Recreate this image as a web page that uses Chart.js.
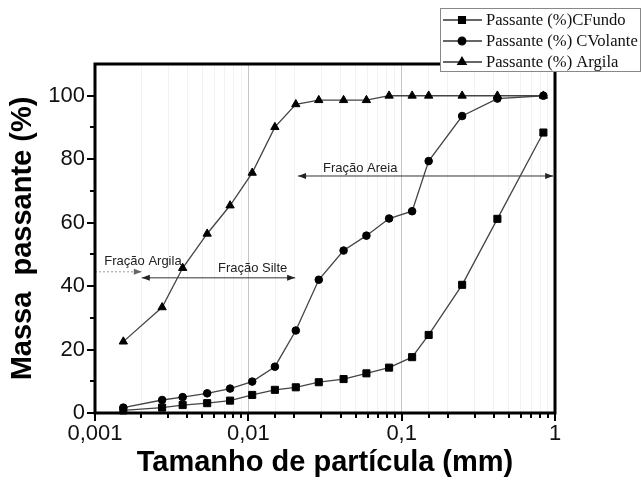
<!DOCTYPE html>
<html>
<head>
<meta charset="utf-8">
<script src="https://cdn.jsdelivr.net/npm/chart.js@4/dist/chart.umd.min.js"></script>
<style>
  html, body { margin: 0; padding: 0; background: #fff; }
  #wrap { width: 642px; height: 484px; }
</style>
</head>
<body>
<div id="wrap"><canvas id="chart"></canvas></div>
<script>
// particle size (mm), shared by the three curves
var tamanho = [0.00153, 0.00274, 0.00373, 0.00539, 0.0076, 0.0106, 0.0149, 0.0204, 0.0288,
  0.0418, 0.0589, 0.0828, 0.117, 0.150, 0.248, 0.421, 0.84];
var cFundo = [0.8, 1.7, 2.5, 3.1, 3.9, 5.7, 7.3, 8.1, 9.7, 10.7, 12.5, 14.3, 17.6, 24.6, 40.4, 61.2, 88.4];
var cVolante = [1.7, 4.1, 5.0, 6.2, 7.7, 9.9, 14.6, 26.0, 42.0, 51.2, 55.9, 61.3, 63.6, 79.4, 93.6, 99.1, 100];
var argila = [22.5, 33.3, 45.7, 56.5, 65.4, 75.7, 90.1, 97.3, 98.6, 98.6, 98.6, 100, 100, 100, 100, 100, 100];

var seriesNames = ["Passante (%)CFundo", "Passante (%) CVolante", "Passante (%) Argila"];
var seriesStyles = ["rect", "circle", "triangle"];

// fraction arrows: [label, x from, x to, y, arrows, label x, label y]
var fracoes = [
  ["Fração Argila", 0.001, 0.00202, 44.5, "right", 0.00115, 46.8],
  ["Fração Silte", 0.00202, 0.0202, 42.6, "both", 0.00634, 44.5],
  ["Fração Areia", 0.0211, 0.973, 74.7, "both", 0.0307, 75.9]
];

function pts(ys) {
  return ys.map(function (v, i) { return { x: tamanho[i], y: v }; });
}

function isPow10(v) {
  var l = Math.log10(v);
  return Math.abs(l - Math.round(l)) < 1e-9;
}

function arrowHead(ctx, x, y, dir) {
  ctx.beginPath();
  ctx.moveTo(x, y);
  ctx.lineTo(x - dir * 8, y - 3);
  ctx.lineTo(x - dir * 8, y + 3);
  ctx.closePath();
  ctx.fill();
}

var annotations = {
  id: "annotations",
  beforeDatasetsDraw: function (chart) {
    var ctx = chart.ctx, x = chart.scales.x, y = chart.scales.y;
    ctx.save();
    fracoes.forEach(function (f) {
      var x1 = x.getPixelForValue(f[1]), x2 = x.getPixelForValue(f[2]), py = y.getPixelForValue(f[3]);
      ctx.lineWidth = 1;
      if (f[4] === "right") {
        ctx.strokeStyle = "#999";
        ctx.fillStyle = "#666";
        ctx.setLineDash([2, 2]);
      } else {
        ctx.strokeStyle = "#333";
        ctx.fillStyle = "#222";
        ctx.setLineDash([]);
      }
      ctx.beginPath();
      ctx.moveTo(x1, py);
      ctx.lineTo(x2, py);
      ctx.stroke();
      ctx.setLineDash([]);
      arrowHead(ctx, x2, py, 1);
      if (f[4] === "both") arrowHead(ctx, x1, py, -1);
      ctx.fillStyle = "#222";
      ctx.font = "13px 'Liberation Sans', Arial, sans-serif";
      ctx.textAlign = "left";
      ctx.textBaseline = "alphabetic";
      ctx.fillText(f[0], x.getPixelForValue(f[5]), y.getPixelForValue(f[6]));
    });
    ctx.restore();
  }
};

var frame = {
  id: "frame",
  afterDraw: function (chart) {
    var ctx = chart.ctx, a = chart.chartArea, x = chart.scales.x, y = chart.scales.y;
    ctx.save();
    ctx.strokeStyle = "#000";
    ctx.lineWidth = 2;
    ctx.beginPath();
    y.ticks.forEach(function (t) {
      if (t.value >= 110) return;
      var py = Math.round(y.getPixelForValue(t.value));
      var len = t.value % 20 === 0 ? 8 : 5;
      ctx.moveTo(a.left - len, py);
      ctx.lineTo(a.left, py);
    });
    x.ticks.forEach(function (t) {
      var px = Math.round(x.getPixelForValue(t.value));
      var len = isPow10(t.value) ? 8 : 5;
      ctx.moveTo(px, a.bottom);
      ctx.lineTo(px, a.bottom + len);
    });
    ctx.stroke();
    ctx.lineWidth = 3;
    ctx.strokeRect(a.left, a.top, a.right - a.left, a.bottom - a.top);

    // legend box
    ctx.fillStyle = "#fff";
    ctx.fillRect(440, 8, 201, 64);
    ctx.strokeStyle = "#888";
    ctx.lineWidth = 1;
    ctx.strokeRect(440.5, 8.5, 200, 63);
    seriesNames.forEach(function (name, i) {
      var ly = 20 + i * 21;
      ctx.strokeStyle = "#333";
      ctx.lineWidth = 1.3;
      ctx.beginPath();
      ctx.moveTo(443, ly);
      ctx.lineTo(482, ly);
      ctx.stroke();
      ctx.fillStyle = "#000";
      ctx.strokeStyle = "#000";
      Chart.helpers.drawPoint(ctx, { pointStyle: seriesStyles[i], radius: seriesStyles[i] === "circle" ? 3.8 : 4.8, rotation: 0, borderWidth: 1 }, 462, ly);
      ctx.fillStyle = "#111";
      ctx.font = "16.6px 'Liberation Serif', 'Times New Roman', serif";
      ctx.textAlign = "left";
      ctx.textBaseline = "middle";
      ctx.fillText(name, 486, ly + 1);
    });
    ctx.restore();
  }
};

function dataset(label, ys, style, r) {
  return {
    label: label,
    data: pts(ys),
    borderColor: "#444",
    borderWidth: 1.3,
    backgroundColor: "#000",
    pointStyle: style,
    pointRadius: r,
    pointBackgroundColor: "#000",
    pointBorderColor: "#000",
    pointBorderWidth: 1,
    tension: 0,
    clip: false
  };
}

var ctx = document.getElementById("chart").getContext("2d");
var chart = new Chart(ctx, {
  type: "line",
  data: {
    datasets: [
      dataset(seriesNames[0], cFundo, "rect", 5),
      dataset(seriesNames[1], cVolante, "circle", 3.8),
      dataset(seriesNames[2], argila, "triangle", 4.8)
    ]
  },
  options: {
    responsive: true,
    maintainAspectRatio: false,
    animation: false,
    events: [],
    layout: { padding: { left: 0, right: 87, top: 64, bottom: 0 } },
    plugins: { legend: { display: false }, tooltip: { enabled: false } },
    scales: {
      x: {
        type: "logarithmic",
        min: 0.001,
        max: 1,
        afterFit: function (s) { s.height = 71; },
        border: { display: false },
        grid: {
          drawTicks: false,
          lineWidth: 1,
          color: function (c) { return c.tick && isPow10(c.tick.value) ? "#c4c4c4" : "#f2f2f2"; }
        },
        ticks: {
          autoSkip: false,
          maxRotation: 0,
          padding: 8,
          color: "#111",
          font: { family: "'Liberation Sans', Arial, sans-serif", size: 22 },
          callback: function (v) { return isPow10(v) ? String(v).replace(".", ",") : ""; }
        },
        title: {
          display: true,
          text: "Tamanho de partícula (mm)",
          color: "#000",
          padding: { top: 6 },
          font: { family: "'Liberation Sans', Arial, sans-serif", size: 29, weight: "bold" }
        }
      },
      y: {
        min: 0,
        max: 110,
        afterFit: function (s) { s.width = 95; },
        border: { display: false },
        grid: { drawOnChartArea: false, drawTicks: false },
        ticks: {
          stepSize: 10,
          padding: 10,
          color: "#111",
          font: { family: "'Liberation Sans', Arial, sans-serif", size: 22 },
          callback: function (v) { return v % 20 === 0 && v <= 100 ? String(v) : ""; }
        },
        title: {
          display: true,
          text: "Massa  passante (%)",
          color: "#000",
          padding: { top: 6 },
          font: { family: "'Liberation Sans', Arial, sans-serif", size: 29, weight: "bold" }
        }
      }
    }
  },
  plugins: [annotations, frame]
});
</script>
</body>
</html>
